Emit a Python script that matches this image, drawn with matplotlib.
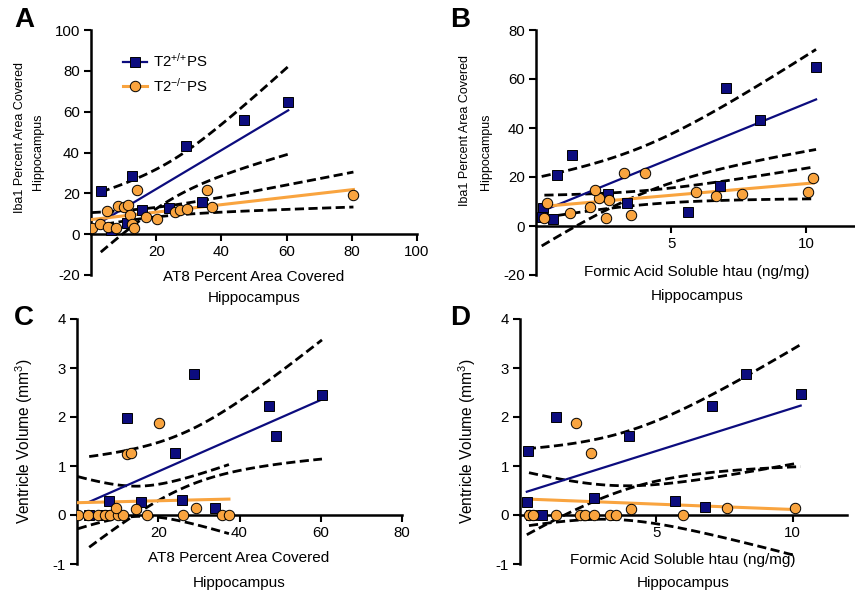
import numpy as np
import matplotlib
matplotlib.use("Agg")
import matplotlib.pyplot as plt
from matplotlib.lines import Line2D

plt.rcParams['font.family'] = ['Liberation Sans', 'DejaVu Sans']
plt.rcParams['axes.unicode_minus'] = False
plt.rcParams['mathtext.default'] = 'regular'

NAVY = '#0c0c7e'
ORANGE = '#f9a43f'

# Panel A: AT8 % area vs Iba1 % area
a_wt_x = [3, 12.5, 29, 47, 60.5, 34, 15.5, 24, 6, 11]
a_wt_y = [21, 28.5, 43, 56, 64.5, 16, 12, 13, 2, 5.5]
a_ko_x = [0.2, 2.8, 4.8, 5.3, 7.7, 8.4, 10, 11.2, 12, 12.5, 13.3, 14, 17, 20.1, 25.8, 27.3, 29.3, 35.5, 37, 80.5]
a_ko_y = [3.2, 5.2, 11.4, 3.6, 2.8, 13.7, 13.5, 14.1, 9.3, 5.2, 2.8, 21.5, 8.5, 7.4, 10.9, 11.7, 12.5, 21.5, 13.3, 19]

# Panel B: formic acid soluble htau vs Iba1 % area
b_wt_x = [10.36, 7.01, 8.27, 1.32, 0.77, 6.79, 5.64, 2.68, 3.36, 0.27, 0.21, 0.64]
b_wt_y = [65, 56.5, 43.4, 29, 21, 16.3, 5.85, 12.9, 9.5, 7.5, 3.8, 3.0]
b_ko_x = [10.25, 10.06, 7.62, 6.67, 5.93, 4.04, 3.27, 3.52, 2.58, 2.7, 2.33, 2.19, 2.01, 1.26, 0.42, 0.31]
b_ko_y = [19.7, 13.8, 12.9, 12.2, 13.8, 21.7, 21.7, 4.5, 3.4, 10.6, 11.5, 14.6, 7.9, 5.4, 9.2, 3.4]

# Panel C: AT8 % area vs ventricle volume
c_wt_x = [12.4, 28.8, 24, 47.2, 49.1, 60.3, 33.9, 25.9, 15.7, 7.9, 3.0, 6.9]
c_wt_y = [1.97, 2.87, 1.27, 2.22, 1.62, 2.44, 0.14, 0.31, 0.27, 0.28, 0, 0]
c_ko_x = [0.2, 2.8, 5.1, 6.9, 8.2, 10, 11.2, 17.3, 26.2, 35.8, 37.4, 20.2, 12.4, 13.2, 9.6, 14.5, 29.4]
c_ko_y = [0, 0, 0, 0, 0, 0, 0, 0, 0, 0, 0, 1.87, 1.24, 1.26, 0.15, 0.12, 0.14]

# Panel D: formic acid soluble htau vs ventricle volume
d_wt_x = [0.25, 0.31, 1.33, 0.82, 2.7, 4.0, 5.7, 6.8, 7.04, 8.28, 10.3, 0.4]
d_wt_y = [0.27, 1.31, 1.99, 0, 0.34, 1.62, 0.29, 0.17, 2.23, 2.88, 2.46, 0]
d_ko_x = [2.05, 2.6, 4.06, 7.6, 10.1, 0.33, 0.49, 1.32, 2.21, 2.37, 2.73, 3.3, 3.54, 5.97]
d_ko_y = [1.88, 1.27, 0.12, 0.15, 0.15, 0, 0, 0, 0, 0, 0, 0, 0, 0]

T975 = {8: 2.306, 9: 2.262, 10: 2.228, 11: 2.201, 12: 2.179, 13: 2.160, 14: 2.145,
        15: 2.131, 16: 2.120, 17: 2.110, 18: 2.101, 19: 2.093, 20: 2.086}


def fit_with_band(ax, x, y, color, lw):
    x = np.asarray(x, float)
    y = np.asarray(y, float)
    n = len(x)
    slope, icept = np.polyfit(x, y, 1)
    xs = np.linspace(x.min(), x.max(), 100)
    yhat = icept + slope * xs
    resid = y - (icept + slope * x)
    s = np.sqrt(np.sum(resid ** 2) / (n - 2))
    sxx = np.sum((x - x.mean()) ** 2)
    half = T975[n - 2] * s * np.sqrt(1.0 / n + (xs - x.mean()) ** 2 / sxx)
    for band in (yhat + half, yhat - half):
        ax.plot(xs, band, color='black', lw=2, ls=(0, (3.3, 1.6)), zorder=2)
    ax.plot(xs, yhat, color=color, lw=lw, zorder=3)


def panel(ax, wx, wy, kx, ky, xlim, ylim, xticks, yticks):
    fit_with_band(ax, wx, wy, NAVY, 1.6)
    fit_with_band(ax, kx, ky, ORANGE, 2.2)
    ax.plot(wx, wy, ls='none', marker='s', ms=7.5, mfc=NAVY, mec='black', mew=0.7, zorder=4)
    ax.plot(kx, ky, ls='none', marker='o', ms=7.5, mfc=ORANGE, mec='black', mew=0.7, zorder=5)
    ax.set_xlim(*xlim)
    ax.set_ylim(*ylim)
    ax.set_xticks(xticks)
    ax.set_yticks(yticks)
    ax.spines['top'].set_visible(False)
    ax.spines['right'].set_visible(False)
    ax.spines['bottom'].set_position(('data', 0))
    for sp in ('left', 'bottom'):
        ax.spines[sp].set_linewidth(1.8)
    ax.tick_params(width=1.5, length=5, labelsize=10.8, direction='out', pad=3)
    ax.patch.set_alpha(0)


fig = plt.figure(figsize=(8.55, 5.91), dpi=100)
W, H = 855.0, 591.0


def add_axes(left, right, bottom, top):
    return fig.add_axes([left / W, 1 - bottom / H, (right - left) / W, (bottom - top) / H])


axA = add_axes(91, 417, 275, 30)
axB = add_axes(536, 855, 275, 30)
axC = add_axes(77, 402, 564, 319)
axD = add_axes(520, 847, 564, 319)

panel(axA, a_wt_x, a_wt_y, a_ko_x, a_ko_y, (0, 100), (-20, 100), [20, 40, 60, 80, 100], [-20, 0, 20, 40, 60, 80, 100])
panel(axB, b_wt_x, b_wt_y, b_ko_x, b_ko_y, (0, 11.8), (-20, 80), [5, 10], [-20, 0, 20, 40, 60, 80])
panel(axC, c_wt_x, c_wt_y, c_ko_x, c_ko_y, (0, 80), (-1, 4), [20, 40, 60, 80], [-1, 0, 1, 2, 3, 4])
panel(axD, d_wt_x, d_wt_y, d_ko_x, d_ko_y, (0, 12), (-1, 4), [5, 10], [-1, 0, 1, 2, 3, 4])

xlab = dict(fontsize=11, ha='center', va='center')
ylab_small = dict(fontsize=9, ha='center', va='center', rotation=90)
ylab_big = dict(fontsize=11.2, ha='center', va='center', rotation=90)
# x labels
fig.text(254 / W, 1 - 277 / H, 'AT8 Percent Area Covered', **xlab)
fig.text(254 / W, 1 - 298 / H, 'Hippocampus', **xlab)
fig.text(697 / W, 1 - 272 / H, 'Formic Acid Soluble htau (ng/mg)', **xlab)
fig.text(697 / W, 1 - 296 / H, 'Hippocampus', **xlab)
fig.text(239 / W, 1 - 558 / H, 'AT8 Percent Area Covered', **xlab)
fig.text(239 / W, 1 - 583 / H, 'Hippocampus', **xlab)
fig.text(683 / W, 1 - 560 / H, 'Formic Acid Soluble htau (ng/mg)', **xlab)
fig.text(683 / W, 1 - 583 / H, 'Hippocampus', **xlab)
# y labels
fig.text(20 / W, 1 - 137 / H, 'Iba1 Percent Area Covered', **ylab_small)
fig.text(38 / W, 1 - 152 / H, 'Hippocampus', **ylab_small)
fig.text(465 / W, 1 - 130 / H, 'Iba1 Percent Area Covered', **ylab_small)
fig.text(486 / W, 1 - 152 / H, 'Hippocampus', **ylab_small)
fig.text(24 / W, 1 - 441 / H, 'Ventricle Volume (mm$^3$)', **ylab_big)
fig.text(467 / W, 1 - 441 / H, 'Ventricle Volume (mm$^3$)', **ylab_big)

# panel letters
for letter, px, py in [('A', 24, 20), ('B', 460, 20), ('C', 24, 318), ('D', 460, 318)]:
    fig.text(px / W, 1 - py / H, letter, fontsize=20, fontweight='bold', ha='center', va='center')

handles = [
    Line2D([], [], color=NAVY, lw=1.6, marker='s', ms=7.5, mfc=NAVY, mec='black', mew=0.7),
    Line2D([], [], color=ORANGE, lw=2.2, marker='o', ms=7.5, mfc=ORANGE, mec='black', mew=0.7),
]
axA.legend(handles, ['T2$^{{+}/{+}}$PS', 'T2$^{{-}/{-}}$PS'], loc='upper left', bbox_to_anchor=(0.08, 0.935),
           frameon=False, fontsize=10.8, handlelength=1.6, handletextpad=0.4, labelspacing=0.45,
           borderaxespad=0)

fig.savefig('out.png', dpi=100)
